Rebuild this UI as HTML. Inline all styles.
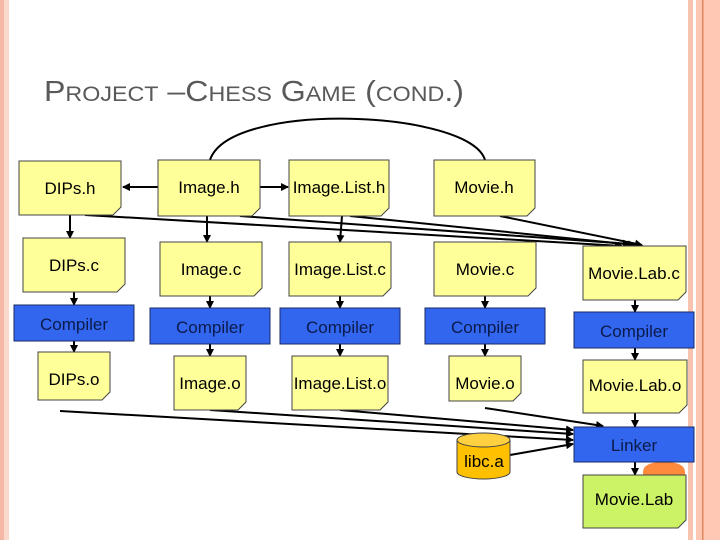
<!DOCTYPE html>
<html><head><meta charset="utf-8"><style>
body{margin:0;width:720px;height:540px;overflow:hidden;background:#fff;font-family:"Liberation Sans",Arial,sans-serif}
</style></head><body>
<svg width="720" height="540" viewBox="0 0 720 540" xmlns="http://www.w3.org/2000/svg" font-family="Liberation Sans, Arial, sans-serif">
<defs>
<marker id="a" markerWidth="8" markerHeight="8" refX="7" refY="4" orient="auto" markerUnits="userSpaceOnUse"><path d="M0,0 L8,4 L0,8 z" fill="#000"/></marker>
</defs>
<rect x="0" y="0" width="4" height="540" fill="#f4b8a4"/>
<rect x="4" y="0" width="5" height="540" fill="#fbd8cc"/>
<rect x="688" y="0" width="5" height="540" fill="#f8c4b0"/>
<rect x="696" y="0" width="6" height="540" fill="#fcc6b2"/>
<rect x="702" y="0" width="1.5" height="540" fill="#e08860"/>
<rect x="703.5" y="0" width="16.5" height="540" fill="#ffc8b4"/>
<text x="44" y="101" fill="#595959" font-size="29" textLength="420" lengthAdjust="spacingAndGlyphs">P<tspan font-size="21">ROJECT</tspan> –C<tspan font-size="21">HESS</tspan> G<tspan font-size="21">AME</tspan>  (<tspan font-size="21">COND</tspan>.)</text>
<path d="M643,480 L643,472 Q643,462 664,462 Q685,462 685,472 L685,480 z" fill="#ff8a3c"/>
<g stroke="#000" stroke-width="2" fill="none">
<path d="M210,160 C230,100 470,110 485,160"/>
<line x1="158" y1="187" x2="123" y2="187" marker-end="url(#a)"/>
<line x1="260" y1="187" x2="288" y2="187" marker-end="url(#a)"/>
<line x1="70" y1="215" x2="70" y2="238" marker-end="url(#a)"/>
<line x1="207" y1="216" x2="207" y2="242" marker-end="url(#a)"/>
<line x1="342" y1="216" x2="340" y2="242" marker-end="url(#a)"/>
<line x1="85" y1="215" x2="622" y2="246" marker-end="url(#a)"/>
<line x1="240" y1="216" x2="630" y2="244" marker-end="url(#a)"/>
<line x1="350" y1="216" x2="635" y2="245" marker-end="url(#a)"/>
<line x1="500" y1="216" x2="642" y2="245" marker-end="url(#a)"/>
<line x1="74" y1="292" x2="74" y2="305" marker-end="url(#a)"/>
<line x1="210" y1="296" x2="210" y2="308" marker-end="url(#a)"/>
<line x1="340" y1="296" x2="340" y2="308" marker-end="url(#a)"/>
<line x1="485" y1="296" x2="485" y2="308" marker-end="url(#a)"/>
<line x1="635" y1="300" x2="635" y2="312" marker-end="url(#a)"/>
<line x1="74" y1="341" x2="74" y2="352" marker-end="url(#a)"/>
<line x1="210" y1="344" x2="210" y2="356" marker-end="url(#a)"/>
<line x1="340" y1="344" x2="340" y2="356" marker-end="url(#a)"/>
<line x1="485" y1="344" x2="485" y2="356" marker-end="url(#a)"/>
<line x1="635" y1="348" x2="635" y2="360" marker-end="url(#a)"/>
<line x1="635" y1="413" x2="635" y2="427" marker-end="url(#a)"/>
<line x1="635" y1="462" x2="635" y2="475" marker-end="url(#a)"/>
<line x1="60" y1="411" x2="573" y2="440" marker-end="url(#a)"/>
<line x1="210" y1="410" x2="573" y2="434" marker-end="url(#a)"/>
<line x1="340" y1="410" x2="573" y2="430" marker-end="url(#a)"/>
<line x1="485" y1="408" x2="603" y2="426" marker-end="url(#a)"/>
<line x1="510" y1="455" x2="573" y2="444" marker-end="url(#a)"/>
</g>
<g fill="#ffff99" stroke="#444" stroke-width="1">
<path d="M19,161 H121 V207 L113,215 H19 z"/>
<path d="M158,160 H260 V208 L252,216 H158 z"/>
<path d="M289,160 H389 V208 L381,216 H289 z"/>
<path d="M434,160 H535 V208 L527,216 H434 z"/>
<path d="M23,238 H125 V284 L117,292 H23 z"/>
<path d="M160,242 H262 V288 L254,296 H160 z"/>
<path d="M289,242 H391 V288 L383,296 H289 z"/>
<path d="M434,242 H536 V288 L528,296 H434 z"/>
<path d="M583,246 H686 V292 L678,300 H583 z"/>
<path d="M38,352 H110 V392 L102,400 H38 z"/>
<path d="M174,356 H246 V402 L238,410 H174 z"/>
<path d="M292,356 H388 V402 L380,410 H292 z"/>
<path d="M449,356 H521 V393 L513,401 H449 z"/>
<path d="M583,360 H687 V405 L679,413 H583 z"/>
</g>
<path d="M583,475 H686 V520 L678,528 H583 z" fill="#ccf266" stroke="#444"/>
<g fill="#3366ee" stroke="#1a2a66" stroke-width="1">
<rect x="14" y="305" width="120" height="36"/>
<rect x="150" y="308" width="120" height="36"/>
<rect x="280" y="308" width="120" height="36"/>
<rect x="425" y="308" width="120" height="36"/>
<rect x="574" y="312" width="120" height="36"/>
<rect x="574" y="427" width="120" height="35"/>
</g>
<path d="M457,440 V472 A26.5,7 0 0 0 510,472 V440" fill="#ffc000" stroke="#444"/>
<ellipse cx="483.5" cy="440" rx="26.5" ry="7" fill="#ffd040" stroke="#444"/>
<g font-size="17" fill="#000" text-anchor="middle">
<text x="70" y="194">DIPs.h</text>
<text x="209" y="193">Image.h</text>
<text x="339" y="193">Image.List.h</text>
<text x="484" y="193">Movie.h</text>
<text x="74" y="271">DIPs.c</text>
<text x="211" y="275">Image.c</text>
<text x="340" y="275">Image.List.c</text>
<text x="485" y="275">Movie.c</text>
<text x="634" y="279">Movie.Lab.c</text>
<text x="74" y="385">DIPs.o</text>
<text x="210" y="389">Image.o</text>
<text x="340" y="389">Image.List.o</text>
<text x="485" y="389">Movie.o</text>
<text x="635" y="391">Movie.Lab.o</text>
<text x="484" y="467">libc.a</text>
<text x="634" y="505">Movie.Lab</text>
</g>
<g font-size="17" fill="#0a1a4a" text-anchor="middle">
<text x="74" y="330">Compiler</text>
<text x="210" y="333">Compiler</text>
<text x="340" y="333">Compiler</text>
<text x="485" y="333">Compiler</text>
<text x="634" y="337">Compiler</text>
<text x="634" y="451">Linker</text>
</g>
</svg>
</body></html>
